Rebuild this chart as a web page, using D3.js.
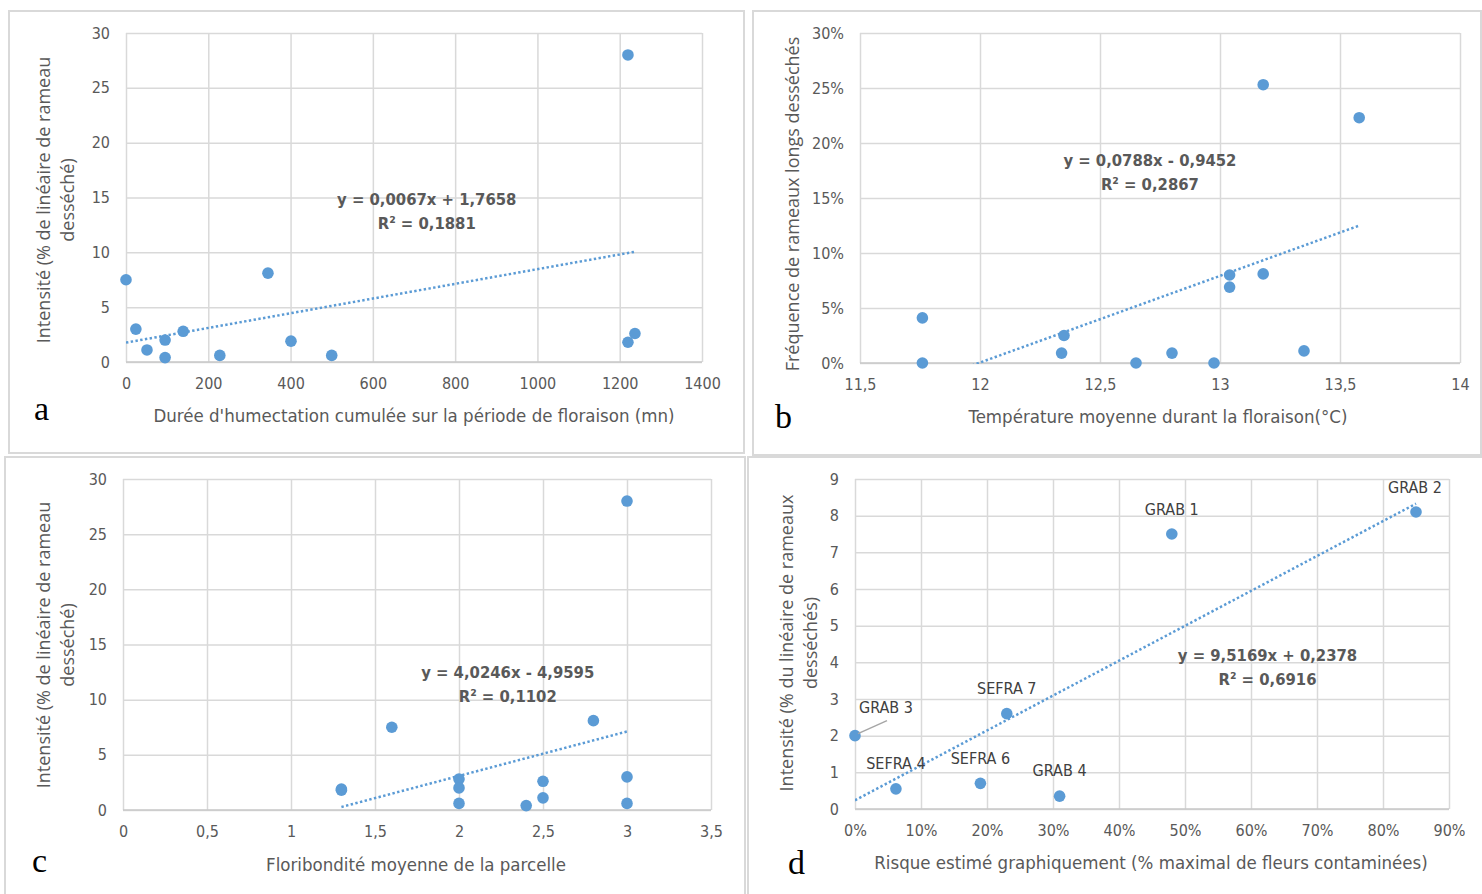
<!DOCTYPE html>
<html>
<head>
<meta charset="utf-8">
<script src="https://cdn.jsdelivr.net/npm/d3@7"></script>
<style>
  body { margin: 0; background: #fff; }
  svg text { fill: #595959; }
</style>
</head>
<body>
<svg id="chart" width="1482" height="894"></svg>
<script>
// ---- data, panel a: wetness duration vs intensity
const wetnessMin = [0, 24, 51, 95, 95, 139, 228, 345, 401, 500, 1220, 1220, 1237];
const intensityA = [7.5, 3.0, 1.1, 2.0, 0.4, 2.8, 0.6, 8.1, 1.9, 0.6, 28, 1.8, 2.6];
const trendA = [0.0067, 1.7658, 0.1881];
const xTicksA = [0, 200, 400, 600, 800, 1000, 1200, 1400];
const yTicksA = [0, 5, 10, 15, 20, 25, 30];

// ---- panel b: temperature vs frequency
const tempC = [11.76, 11.76, 12.35, 12.34, 12.65, 12.80, 12.975, 13.04, 13.04, 13.18, 13.18, 13.35, 13.58];
const freqB = [0.041, 0, 0.025, 0.009, 0, 0.009, 0, 0.080, 0.069, 0.253, 0.081, 0.011, 0.223];
const trendB = [0.0788, -0.9452, 0.2867];
const xTicksB = [11.5, 12, 12.5, 13, 13.5, 14];
const yTicksB = [0, 0.05, 0.10, 0.15, 0.20, 0.25, 0.30];

// ---- panel c: floribundity vs intensity
const floribC = [1.3, 1.3, 1.6, 2, 2, 2, 2.4, 2.5, 2.5, 2.8, 3, 3, 3];
const intensityC = [1.9, 1.8, 7.5, 2.8, 2.0, 0.6, 0.4, 2.6, 1.1, 8.1, 28, 3.0, 0.6];
const trendC = [4.0246, -4.9595, 0.1102];
const xTicksC = [0, 0.5, 1, 1.5, 2, 2.5, 3, 3.5];
const yTicksC = [0, 5, 10, 15, 20, 25, 30];

// ---- panel d: estimated risk vs intensity
const plotNames = ["GRAB 2", "GRAB 1", "GRAB 3", "GRAB 4", "SEFRA 4", "SEFRA 6", "SEFRA 7"];
const riskD = [0.85, 0.48, 0.0, 0.31, 0.062, 0.19, 0.23];
const intensityD = [8.1, 7.5, 2.0, 0.35, 0.55, 0.7, 2.6];
const trendD = [9.5169, 0.2378, 0.6916];
const xTicksD = [0, 0.1, 0.2, 0.3, 0.4, 0.5, 0.6, 0.7, 0.8, 0.9];
const yTicksD = [0, 1, 2, 3, 4, 5, 6, 7, 8, 9];

const BLUE = "#5B9BD5";
const NARROW = "'Liberation Sans Narrow', 'Arial Narrow', 'DejaVu Sans Condensed', sans-serif";
const WIDE = "'Open Sans', 'Noto Sans', sans-serif";

const loc = d3.formatLocale({ decimal: ",", thousands: "", grouping: [3], currency: ["", ""] });
const fmtNum = loc.format(".1~f");
const fmtPct = loc.format(".0%");
const fmtCoef = loc.format(".4f");

const svg = d3.select("#chart");

const drawPanel = (p) => {
    // frame
    svg.append("rect")
        .attr("x", p.frame[0]).attr("y", p.frame[1])
        .attr("width", p.frame[2] - p.frame[0]).attr("height", p.frame[3] - p.frame[1])
        .attr("fill", "none").attr("stroke", "#d9d9d9").attr("stroke-width", 2);

    const [l, t, r, b] = p.plot;
    const w = r - l, h = b - t;
    const g = svg.append("g").attr("transform", `translate(${l},${t})`);

    const x = d3.scaleLinear().domain(d3.extent(p.xTicks)).range([0, w]);
    const y = d3.scaleLinear().domain(d3.extent(p.yTicks)).range([h, 0]);

    // grid + axes
    const gx = g.append("g")
        .attr("transform", `translate(0,${h})`)
        .call(d3.axisBottom(x).tickValues(p.xTicks).tickSize(-h).tickPadding(16).tickFormat(p.xFmt));
    const gy = g.append("g")
        .call(d3.axisLeft(y).tickValues(p.yTicks).tickSize(-w).tickPadding(16).tickFormat(p.yFmt));
    [gx, gy].forEach(a => {
        a.select(".domain").remove();
        a.selectAll("line").attr("stroke", "#d9d9d9").attr("stroke-width", 1.5);
        a.selectAll("text")
            .style("font-family", NARROW).style("font-size", "16px").style("fill", "#595959");
    });
    g.append("line")
        .attr("x1", 0).attr("x2", w).attr("y1", h).attr("y2", h)
        .attr("stroke", "#c8c8c8").attr("stroke-width", 1.5);

    // trend line (clipped to plot area)
    const clipId = "clip-" + p.id;
    g.append("clipPath").attr("id", clipId)
        .append("rect").attr("width", w).attr("height", h + 1);
    const [slope, icpt] = p.trend;
    const xs = d3.extent(p.xs);
    g.append("line")
        .attr("clip-path", `url(#${clipId})`)
        .attr("x1", x(xs[0])).attr("y1", y(slope * xs[0] + icpt))
        .attr("x2", x(xs[1])).attr("y2", y(slope * xs[1] + icpt))
        .attr("stroke", BLUE).attr("stroke-width", 2.5)
        .attr("stroke-dasharray", "2.4,2.4");

    // points
    g.selectAll("circle.pt")
        .data(p.xs.map((v, i) => [v, p.ys[i]]))
        .join("circle")
        .attr("class", "pt")
        .attr("cx", d => x(d[0])).attr("cy", d => y(d[1]))
        .attr("r", 5.8).attr("fill", BLUE);

    // point labels (panel d)
    if (p.names) {
        p.names.forEach((n, i) => {
            const px = x(p.xs[i]), py = y(p.ys[i]);
            const off = p.labelOffsets[i];
            g.append("text")
                .attr("x", px + off[0]).attr("y", py + off[1])
                .attr("text-anchor", "middle").attr("dy", "0.35em")
                .style("font-family", NARROW).style("font-size", "16px").style("fill", "#404040")
                .text(n);
            if (off[2]) {
                g.append("line")
                    .attr("x1", px + 3).attr("y1", py - 2)
                    .attr("x2", px + off[2][0]).attr("y2", py + off[2][1])
                    .attr("stroke", "#a6a6a6").attr("stroke-width", 1.5);
            }
        });
    }

    // equation
    const sign = icpt < 0 ? " - " : " + ";
    const eq = g.append("text")
        .attr("x", x(p.eqPos[0])).attr("y", y(p.eqPos[1]))
        .attr("text-anchor", "middle")
        .style("font-family", NARROW).style("font-size", "16.5px").style("font-weight", "bold")
        .style("fill", "#595959");
    eq.append("tspan").attr("x", x(p.eqPos[0]))
        .text(`y = ${fmtCoef(slope)}x${sign}${fmtCoef(Math.abs(icpt))}`);
    eq.append("tspan").attr("x", x(p.eqPos[0])).attr("dy", 24)
        .text(`R² = ${fmtCoef(p.trend[2])}`);

    // x title
    svg.append("text")
        .attr("x", p.xTitlePos[0]).attr("y", p.xTitlePos[1])
        .attr("text-anchor", "middle")
        .style("font-family", NARROW).style("font-size", "18.5px").style("fill", "#595959")
        .text(p.xTitle);

    // y title (rotated, one or two lines)
    const yt = svg.append("text")
        .attr("transform", `translate(${p.yTitlePos[0]},${p.yTitlePos[1]}) rotate(-90)`)
        .attr("text-anchor", "middle")
        .style("font-family", WIDE).style("font-size", "18px").style("fill", "#595959");
    p.yTitle.forEach((line, i) => {
        yt.append("tspan").attr("x", 0).attr("dy", i === 0 ? 0 : 24).text(line);
    });

    // panel letter
    svg.append("text")
        .attr("x", p.letterPos[0]).attr("y", p.letterPos[1])
        .style("font-family", "'Liberation Serif', 'DejaVu Serif', serif")
        .style("font-size", "34px").style("fill", "#000")
        .text(p.letter);
};

drawPanel({
    id: "a", letter: "a", letterPos: [34, 420],
    frame: [9, 11, 744, 453], plot: [126, 33, 702, 362],
    xs: wetnessMin, ys: intensityA, trend: trendA,
    xTicks: xTicksA, yTicks: yTicksA, xFmt: d3.format("d"), yFmt: d3.format("d"),
    eqPos: [731, 14.35],
    xTitle: "Durée d'humectation cumulée sur la période de floraison (mn)", xTitlePos: [414, 422],
    yTitle: ["Intensité (% de linéaire de rameau", "desséché)"], yTitlePos: [50, 200]
});

drawPanel({
    id: "b", letter: "b", letterPos: [775, 428],
    frame: [753, 11, 1481, 455], plot: [860, 33, 1460, 363],
    xs: tempC, ys: freqB, trend: trendB,
    xTicks: xTicksB, yTicks: yTicksB, xFmt: fmtNum, yFmt: fmtPct,
    eqPos: [12.708, 0.179],
    xTitle: "Température moyenne durant la floraison(°C)", xTitlePos: [1158, 423],
    yTitle: ["Fréquence de rameaux longs desséchés"], yTitlePos: [799, 204]
});

drawPanel({
    id: "c", letter: "c", letterPos: [32, 872],
    frame: [5, 457, 745, 896], plot: [123, 479, 711, 810],
    xs: floribC, ys: intensityC, trend: trendC,
    xTicks: xTicksC, yTicks: yTicksC, xFmt: fmtNum, yFmt: d3.format("d"),
    eqPos: [2.29, 11.95],
    xTitle: "Floribondité moyenne de la parcelle", xTitlePos: [416, 871],
    yTitle: ["Intensité (% de linéaire de rameau", "desséché)"], yTitlePos: [50, 645],
});

drawPanel({
    id: "d", letter: "d", letterPos: [788, 874],
    frame: [748, 457, 1484, 896], plot: [855, 479, 1449, 809],
    xs: riskD, ys: intensityD, trend: trendD,
    xTicks: xTicksD, yTicks: yTicksD, xFmt: fmtPct, yFmt: d3.format("d"),
    eqPos: [0.625, 4.03],
    names: plotNames,
    labelOffsets: [[-1, -25], [0, -25], [31, -28, [32, -15]], [0, -26], [0, -25], [0, -25], [0, -25]],
    xTitle: "Risque estimé graphiquement (% maximal de fleurs contaminées)", xTitlePos: [1151, 869],
    yTitle: ["Intensité (% du linéaire de rameaux", "desséchés)"], yTitlePos: [793, 643]
});
</script>
</body>
</html>
